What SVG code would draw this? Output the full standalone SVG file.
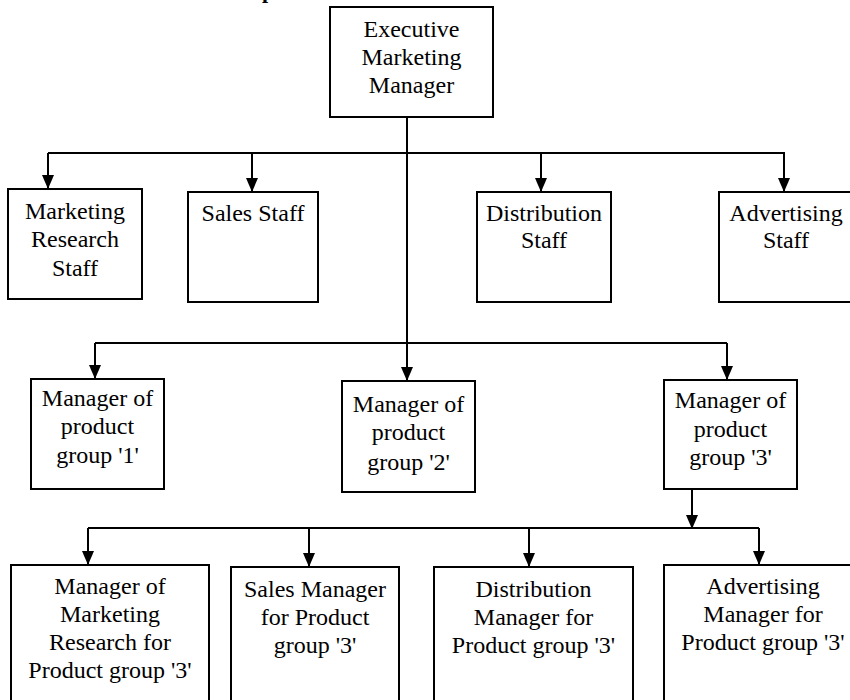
<svg xmlns="http://www.w3.org/2000/svg" width="850" height="700" viewBox="0 0 850 700">
  <style>
    .box { fill: #ffffff; stroke: #000000; stroke-width: 2; }
    .lbl { font-family: 'Liberation Serif', 'DejaVu Serif', serif; font-size: 24px; fill: #000000; text-anchor: middle; }
    .wire { fill: none; stroke: #000000; stroke-width: 2; }
    .head { fill: #000000; }
  </style>
  <defs>
    <marker id="arrow" viewBox="0 0 14 12" refX="14" refY="6" markerWidth="14" markerHeight="12" markerUnits="userSpaceOnUse" orient="auto">
      <path class="head" d="M0,0 L14,6 L0,12 Z"/>
    </marker>
  </defs>
  <rect width="850" height="700" fill="#ffffff"/>

  <!-- heading, mostly above the visible area -->
  <text x="262" y="-2" font-family="'Liberation Serif', serif" font-size="22" font-weight="bold">p</text>

  <!-- connectors -->
  <g id="connectors">
    <!-- trunk from the executive down to the product-group level -->
    <path class="wire" d="M407,117 V381" marker-end="url(#arrow)"/>
    <!-- staff bus -->
    <path class="wire" d="M48,153 H785"/>
    <path class="wire" d="M48,153 V189" marker-end="url(#arrow)"/>
    <path class="wire" d="M252,153 V192" marker-end="url(#arrow)"/>
    <path class="wire" d="M541,153 V192" marker-end="url(#arrow)"/>
    <path class="wire" d="M784,153 V192" marker-end="url(#arrow)"/>
    <!-- product group bus -->
    <path class="wire" d="M95,343 H727"/>
    <path class="wire" d="M95,343 V379" marker-end="url(#arrow)"/>
    <path class="wire" d="M727,343 V380" marker-end="url(#arrow)"/>
    <!-- product group 3 functional bus -->
    <path class="wire" d="M692,490 V529" marker-end="url(#arrow)"/>
    <path class="wire" d="M88,528 H759"/>
    <path class="wire" d="M88,528 V565" marker-end="url(#arrow)"/>
    <path class="wire" d="M309,528 V567" marker-end="url(#arrow)"/>
    <path class="wire" d="M529,528 V567" marker-end="url(#arrow)"/>
    <path class="wire" d="M759,528 V565" marker-end="url(#arrow)"/>
  </g>

  <g id="executive">
    <rect class="box" x="330" y="7" width="163" height="110"/>
    <text class="lbl" x="411.5" y="37">Executive</text>
    <text class="lbl" x="411.5" y="65">Marketing</text>
    <text class="lbl" x="411.5" y="93">Manager</text>
  </g>

  <g id="research-staff">
    <rect class="box" x="8" y="189" width="134" height="110"/>
    <text class="lbl" x="75" y="219">Marketing</text>
    <text class="lbl" x="75" y="247">Research</text>
    <text class="lbl" x="75" y="276">Staff</text>
  </g>

  <g id="sales-staff">
    <rect class="box" x="188" y="192" width="130" height="110"/>
    <text class="lbl" x="253" y="221">Sales Staff</text>
  </g>

  <g id="distribution-staff">
    <rect class="box" x="477" y="192" width="134" height="110"/>
    <text class="lbl" x="544" y="221">Distribution</text>
    <text class="lbl" x="544" y="248">Staff</text>
  </g>

  <g id="advertising-staff">
    <rect class="box" x="719" y="192" width="134" height="110"/>
    <text class="lbl" x="786" y="221">Advertising</text>
    <text class="lbl" x="786" y="248">Staff</text>
  </g>

  <g id="group-1">
    <rect class="box" x="31" y="379" width="133" height="110"/>
    <text class="lbl" x="97.5" y="406">Manager of</text>
    <text class="lbl" x="97.5" y="434">product</text>
    <text class="lbl" x="97.5" y="463">group '1'</text>
  </g>

  <g id="group-2">
    <rect class="box" x="342" y="381" width="133" height="111"/>
    <text class="lbl" x="408.5" y="412">Manager of</text>
    <text class="lbl" x="408.5" y="440">product</text>
    <text class="lbl" x="408.5" y="470">group '2'</text>
  </g>

  <g id="group-3">
    <rect class="box" x="664" y="380" width="133" height="109"/>
    <text class="lbl" x="730.5" y="408">Manager of</text>
    <text class="lbl" x="730.5" y="437">product</text>
    <text class="lbl" x="730.5" y="465">group '3'</text>
  </g>

  <g id="research-manager-3">
    <rect class="box" x="11" y="565" width="198" height="150"/>
    <text class="lbl" x="110" y="594">Manager of</text>
    <text class="lbl" x="110" y="622">Marketing</text>
    <text class="lbl" x="110" y="650">Research for</text>
    <text class="lbl" x="110" y="678">Product group '3'</text>
  </g>

  <g id="sales-manager-3">
    <rect class="box" x="231" y="567" width="168" height="150"/>
    <text class="lbl" x="315" y="597">Sales Manager</text>
    <text class="lbl" x="315" y="625">for Product</text>
    <text class="lbl" x="315" y="653">group '3'</text>
  </g>

  <g id="distribution-manager-3">
    <rect class="box" x="434" y="567" width="199" height="150"/>
    <text class="lbl" x="533.5" y="597">Distribution</text>
    <text class="lbl" x="533.5" y="625">Manager for</text>
    <text class="lbl" x="533.5" y="653">Product group '3'</text>
  </g>

  <g id="advertising-manager-3">
    <rect class="box" x="664" y="565" width="198" height="150"/>
    <text class="lbl" x="763" y="594">Advertising</text>
    <text class="lbl" x="763" y="622">Manager for</text>
    <text class="lbl" x="763" y="650">Product group '3'</text>
  </g>
</svg>
